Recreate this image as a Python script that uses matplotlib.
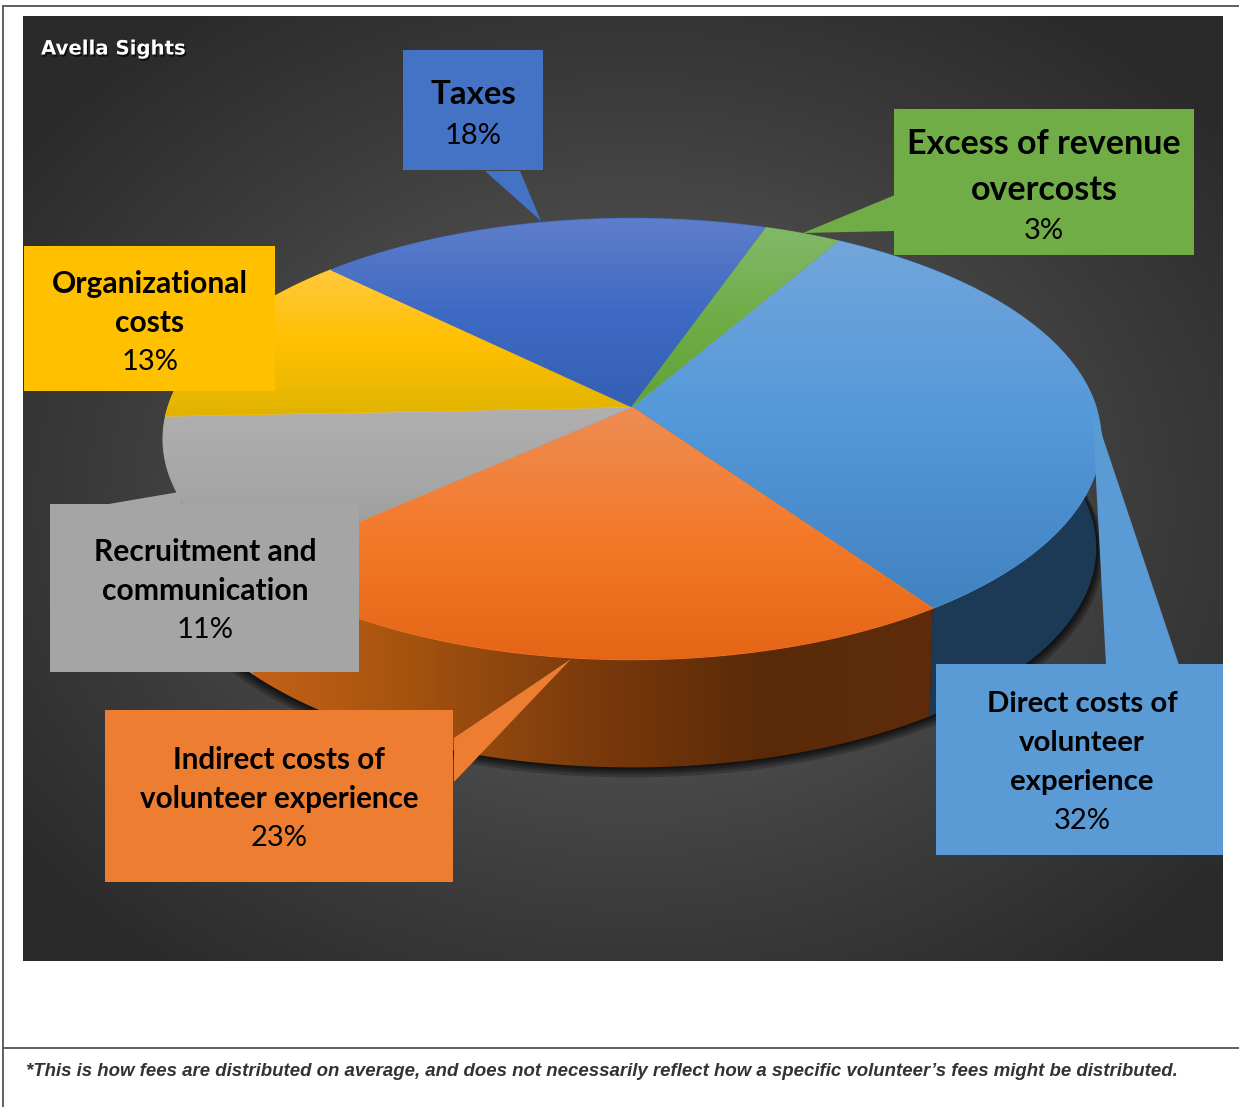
import numpy as np
import matplotlib
matplotlib.use('Agg')
import matplotlib.pyplot as plt
import matplotlib.patheffects as pe
from matplotlib.colors import LinearSegmentedColormap
from matplotlib.patches import Polygon, Rectangle

# data, clockwise from the top right
labels = ['Direct costs of\nvolunteer\nexperience', 'Indirect costs of\nvolunteer experience',
          'Recruitment and\ncommunication', 'Organizational\ncosts', 'Taxes', 'Excess of revenue\novercosts']
values = [32, 23, 11, 13, 18, 3]
footnote = ('*This is how fees are distributed on average, and does not necessarily reflect '
            'how a specific volunteer\u2019s fees might be distributed.')
title = 'Avella Sights'

box_colors = ['#5b9bd5', '#ed7d31', '#a5a5a5', '#ffc000', '#4472c4', '#70ad47']
top_stops = [['#73a6dc', '#5398d9', '#4282c1'],
             ['#ee8c55', '#f47a2a', '#e46515'],
             ['#b0b0b0', '#a6a6a6', '#949494'],
             ['#ffc93f', '#ffc000', '#e0b300'],
             ['#5f7ec9', '#3f6ac4', '#3360b3'],
             ['#82b96a', '#70ad47', '#62a13a']]

# perspective of the disc, pixels
CX, CY = 632, 407
A, B, K = 464, 216, 0.145
START = 60
LOW_CY, LOW_SX, LOW_SY = 516, 0.99, 0.995

fig = plt.figure(figsize=(12.39, 11.07), dpi=100)
ax = fig.add_axes([0, 0, 1, 1])
ax.axis('off')


def rim(t, cy=CY, sx=1.0, sy=1.0):
    x, y = np.cos(t), np.sin(t)
    w = 1 + K * y
    return CX + sx * A * x / w, cy - sy * B * y / w


def clip_image(img, extent, poly, cmap=None, zorder=2):
    patch = Polygon(poly, closed=True, transform=ax.transData, fc='none', ec='none')
    ax.add_patch(patch)
    im = ax.imshow(img, extent=extent, cmap=cmap, vmin=0, vmax=1, aspect='auto',
                   interpolation='bilinear', zorder=zorder)
    im.set_clip_path(patch)


# background
xx, yy = np.meshgrid(np.linspace(23, 1223, 300), np.linspace(16, 961, 240))
d = np.sqrt(((xx - 630) / 600) ** 2 + ((yy - 500) / 472) ** 2) / np.sqrt(2) * 1.1
bg = LinearSegmentedColormap.from_list('bg', ['#585858', '#505050', '#3c3c3c', '#2a2a2a'])
ax.imshow(d, extent=(23, 1223, 961, 16), cmap=bg, vmin=0, vmax=1, aspect='auto', zorder=0)

# angles of the slices come from the values
fracs = np.array(values) / sum(values)
edges = np.deg2rad(START) - 2 * np.pi * np.concatenate([[0], np.cumsum(fracs)])

# shadow under the disc
tt = np.linspace(0, 2 * np.pi, 400)
for grow in [7, 5, 3.5, 2, 1]:
    sx_, sy_ = rim(tt, LOW_CY + grow * 0.8, LOW_SX + grow / 470, LOW_SY + grow / 400)
    ax.fill(sx_, sy_, color='black', alpha=0.22, lw=0, zorder=1)

# side walls, only the front slices show one
orange_wall = LinearSegmentedColormap.from_list('ow', ['#c8641a', '#a5530f', '#7c3b0c', '#5a2a08', '#5e2c0a'])
for i, extra in [(0, 0), (2, 15)]:
    t = np.linspace(edges[i], edges[i + 1] - np.deg2rad(extra), 200)
    x1, y1 = rim(t)
    x2, y2 = rim(t, LOW_CY, LOW_SX, LOW_SY)
    poly = np.column_stack([np.r_[x1, x2[::-1]], np.r_[y1, y2[::-1]]])
    ax.add_patch(Polygon(poly, closed=True, fc='#1c3a56' if i == 0 else '#8c8c8c', ec='none', zorder=2))
t = np.linspace(edges[1], edges[2], 200)
x1, y1 = rim(t)
x2, y2 = rim(t, LOW_CY, LOW_SX, LOW_SY)
poly = np.column_stack([np.r_[x1, x2[::-1]], np.r_[y1, y2[::-1]]])
grad = np.linspace(0, 1, 256).reshape(1, -1)
clip_image(grad, (230, 940, 800, 560), poly, orange_wall)

# top faces, a flat wedge under each gradient closes the seams
for i in range(len(values)):
    t = np.linspace(edges[i], edges[i + 1], 200)
    x1, y1 = rim(t)
    poly = np.column_stack([np.r_[CX, x1], np.r_[CY, y1]])
    ax.add_patch(Polygon(poly, closed=True, fc=top_stops[i][1], ec=top_stops[i][1], lw=0.8, zorder=3))
    cm = LinearSegmentedColormap.from_list('s%d' % i, top_stops[i])
    grad = np.linspace(0, 1, 256).reshape(-1, 1)
    ext = (poly[:, 0].min(), poly[:, 0].max(), poly[:, 1].max(), poly[:, 1].min())
    clip_image(grad, ext, poly, cm, zorder=3)

# label boxes with their callouts (x0, y0, x1, y1)
boxes = [(936, 664, 1223, 855), (105, 710, 453, 882), (50, 504, 359, 672),
         (24, 246, 275, 391), (403, 50, 543, 170), (894, 109, 1194, 255)]
callouts = [[(1106, 665), (1093, 425), (1097, 412), (1103, 438), (1179, 665)],
            [(454, 738), (571, 659), (454, 782)],
            [(103, 505), (179, 492), (182, 505)],
            None,
            [(485, 171), (541, 221), (520, 171)],
            [(895, 195), (803, 233), (895, 231)]]
centers = [(1082, 704), (279, 760), (205, 552), (150, 284), (473, 95), (1044, 144)]
line_h = [39, 39, 39, 39, 41, 46]
sizes = [21.2, 21.3, 21.6, 21.6, 23.8, 24.5]

for i in range(len(values)):
    x0, y0, x1, y1 = boxes[i]
    ax.add_patch(Rectangle((x0, y0), x1 - x0, y1 - y0, fc=box_colors[i], ec='none', zorder=4))
    if callouts[i] is not None:
        ax.add_patch(Polygon(callouts[i], closed=True, fc=box_colors[i], ec='none', zorder=4))
    lines = labels[i].split('\n')
    cx, cy = centers[i]
    for j, line in enumerate(lines):
        ax.text(cx, cy + j * line_h[i], line, family='Lato', weight='bold', fontsize=sizes[i],
                ha='center', va='center', color='black', zorder=5)
    ax.text(cx, cy + len(lines) * line_h[i] - (5 if line_h[i] > 41 else 0), '%d%%' % values[i],
            family='Lato', fontsize=21, ha='center', va='center', color='black', zorder=5)

ax.text(41, 49, title, family='DejaVu Sans', weight='bold', fontsize=14.2, color='white', ha='left',
        va='center', zorder=5,
        path_effects=[pe.withSimplePatchShadow(offset=(1, -1.5), shadow_rgbFace='black', alpha=0.7)])

# page frame and footnote
ax.plot([3, 1239], [6, 6], color='#5f5f5f', lw=1.4, zorder=6)
ax.plot([3, 3], [6, 1107], color='#5f5f5f', lw=1.4, zorder=6)
ax.plot([3, 1239], [1048, 1048], color='#5f5f5f', lw=1.4, zorder=6)
ax.text(26, 1072, footnote, family='Liberation Sans', weight='bold', style='italic', fontsize=13.43,
        color='#333333', ha='left', va='center', zorder=6)

ax.set_xlim(0, 1239)
ax.set_ylim(1107, 0)
fig.savefig('out.png', dpi=100, facecolor='white')
